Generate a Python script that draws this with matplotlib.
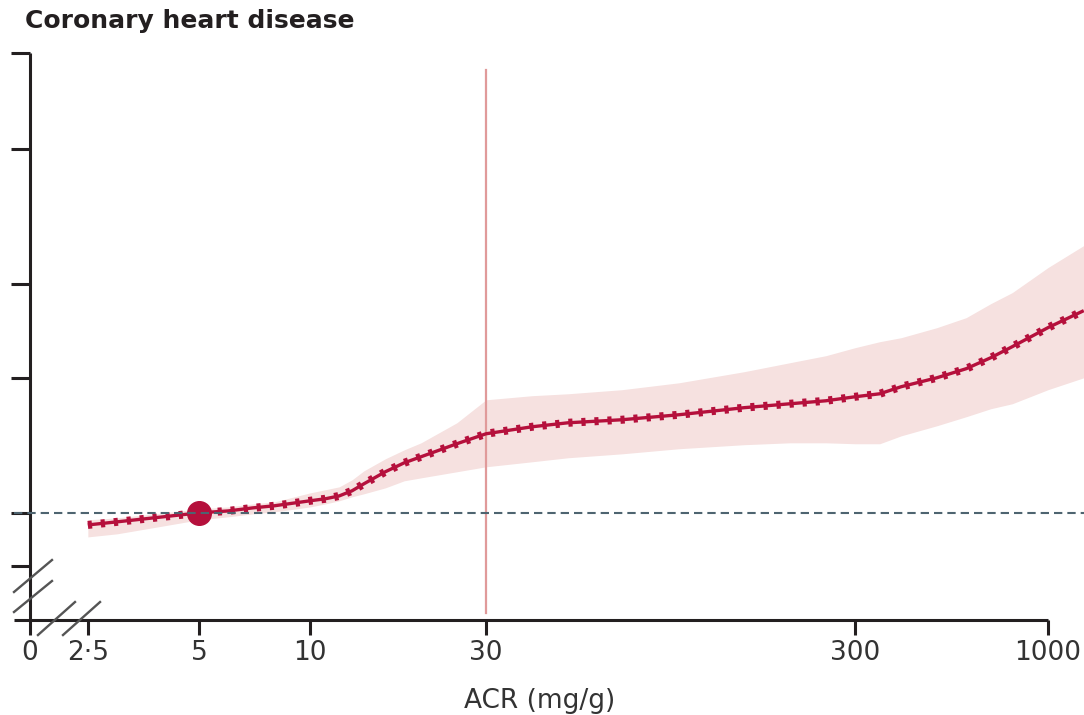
#!/usr/bin/env python3
""" Coronary heart disease hazard ratio by albumin-to-creatinine ratio (ACR).
Spline curve with a shaded confidence band, log-scaled ACR axis and an
axis break between 0 and 2.5 mg/g.
"""

import matplotlib.pyplot as plt
import matplotlib.ticker as mticker

# Define the curve values (ACR in mg/g, hazard ratio)
acr = [2.5, 3, 4, 5, 6, 7, 8, 10, 11, 12, 13, 14, 16, 18, 20, 25, 30, 40,
       50, 70, 100, 150, 200, 250, 300, 350, 400, 500, 600, 700, 800, 1000,
       1250]
hr = [0.940, 0.955, 0.980, 1.000, 1.010, 1.026, 1.037, 1.064, 1.075, 1.091,
      1.120, 1.161, 1.235, 1.293, 1.334, 1.426, 1.501, 1.556, 1.588, 1.613,
      1.655, 1.716, 1.751, 1.778, 1.815, 1.843, 1.911, 2.001, 2.096, 2.218,
      2.347, 2.588, 2.824]
upper = [0.965, 0.975, 1.000, 1.021, 1.031, 1.047, 1.058, 1.108, 1.126,
         1.143, 1.185, 1.241, 1.320, 1.382, 1.433, 1.588, 1.787, 1.825,
         1.843, 1.882, 1.950, 2.064, 2.162, 2.241, 2.335, 2.408, 2.458,
         2.588, 2.724, 2.928, 3.098, 3.523, 3.945]
lower = [0.884, 0.898, 0.935, 0.965, 0.980, 0.995, 1.005, 1.031, 1.047,
         1.064, 1.086, 1.103, 1.137, 1.179, 1.197, 1.235, 1.267, 1.300,
         1.327, 1.354, 1.390, 1.419, 1.433, 1.433, 1.426, 1.426, 1.485,
         1.564, 1.638, 1.707, 1.751, 1.882, 2.001]

# Reference point and threshold
ref_acr = 5
ref_hr = 1.0
threshold = 30

# Define the axis ticks (the first x tick stands for zero, left of the break)
zero_pos = 1.743
xticks = [zero_pos, 2.5, 5, 10, 30, 300, 1000]
xlabels = ['0', '2·5', '5', '10', '30', '300', '1000']
yticks = [0.761, 1, 2, 3.23, 6.46, 10.6]

# Define the colours
red = '#b5103c'
band = '#f6e1e0'
ink = '#231f20'

plt.rcParams['lines.scale_dashes'] = False
plt.rcParams['font.family'] = ['DejaVu Sans']

# Create the figure (100px per inch)
fig = plt.figure(figsize=(10.84, 7.15), dpi=100)
ax = fig.add_axes([14 / 1084, 95 / 715, 1070 / 1084, 567 / 715])
ax.set_xscale('log')
ax.set_yscale('log')
ax.set_xlim(1.577, 1252)
ax.set_ylim(0.577, 10.6)

# Confidence band, threshold line and the curve
ax.fill_between(acr, lower, upper, color=band, lw=0, zorder=1)
ax.axvline(threshold, ymin=0.012, ymax=0.97, color='#e09a9a', lw=1.6,
           zorder=2)
ax.plot(acr, hr, color=red, lw=2.4, solid_capstyle='butt', zorder=3)
ax.plot(acr, hr, color=red, lw=5.8, dashes=(3.0, 6.4),
        dash_capstyle='butt', zorder=3)
ax.plot([ref_acr], [ref_hr], 'o', color=red, ms=17, mec=red, zorder=4)
ax.axhline(1, color='#4e6470', lw=1.5, dashes=(6.0, 3.6), zorder=5)

# Spines: left axis sits on the zero position, bottom stops at 1000
for side in ['top', 'right']:
    ax.spines[side].set_visible(False)
ax.spines['left'].set_position(('data', zero_pos))
for side in ['left', 'bottom']:
    ax.spines[side].set_linewidth(2.2)
    ax.spines[side].set_color(ink)
    ax.spines[side].set_capstyle('butt')
ax.spines['bottom'].set_bounds(1.577, 1000)

# Ticks
ax.xaxis.set_major_locator(mticker.FixedLocator(xticks))
ax.xaxis.set_major_formatter(mticker.FixedFormatter(xlabels))
ax.xaxis.set_minor_locator(mticker.NullLocator())
ax.yaxis.set_major_locator(mticker.FixedLocator(yticks))
ax.yaxis.set_major_formatter(mticker.NullFormatter())
ax.yaxis.set_minor_locator(mticker.NullLocator())
ax.tick_params(axis='x', direction='out', length=11, width=2.2, color=ink,
               pad=3.5, labelsize=19, labelcolor='#333333')
ax.tick_params(axis='y', direction='out', length=13.7, width=2.2, color=ink)

# Axis break marks
breaks = [((0.0, 0.0355), (0.0494, 0.1058)),
          ((0.0, 0.0355), (0.0141, 0.0688)),
          ((0.0224, 0.057), (-0.0265, 0.0317)),
          ((0.0458, 0.0804), (-0.0265, 0.0317))]
for bx, by in breaks:
    ax.plot(bx, by, color='#555555', lw=1.7, transform=ax.transAxes,
            clip_on=False, zorder=6)

# Title and axis label
fig.text(25 / 1084, 1 - 21 / 715, 'Coronary heart disease', fontsize=18,
         fontweight='bold', color=ink, va='center', ha='left')
fig.text(540 / 1084, 1 - 701 / 715, 'ACR (mg/g)', fontsize=19,
         color='#333333', va='center', ha='center')

fig.savefig('out.png', dpi=100)
